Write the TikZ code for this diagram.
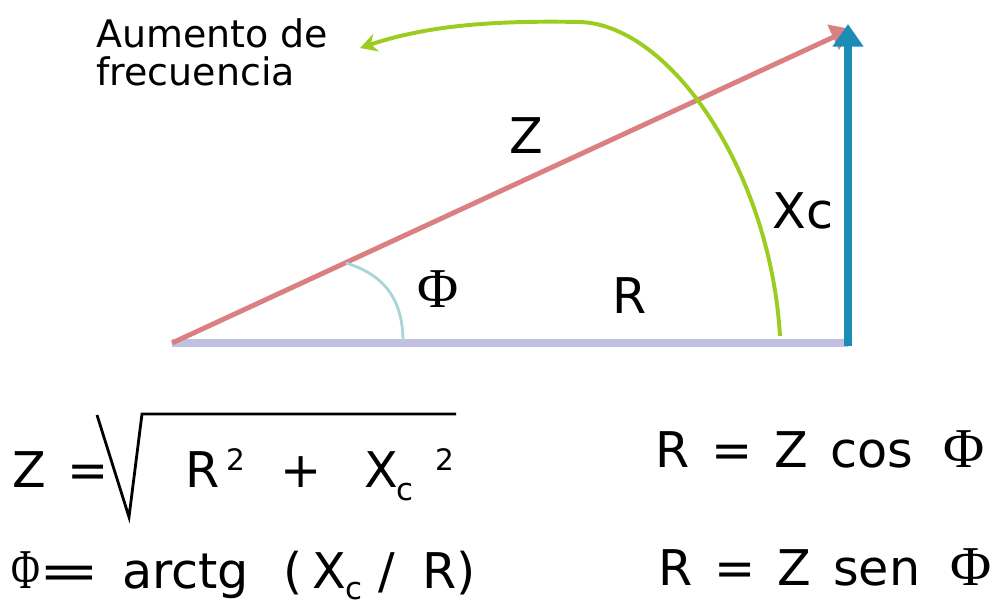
\documentclass[tikz,border=0pt]{standalone}
\usepackage{fontspec}
\setmainfont{DejaVu Sans}
\newfontfamily\widefont[WordSpace=1.4]{DejaVu Sans}
\newfontfamily\phifont{Liberation Serif}
\usepackage{tikz}
\usetikzlibrary{arrows.meta}
\definecolor{zpink}{RGB}{219,128,128}
\definecolor{rlav}{RGB}{194,192,226}
\definecolor{xblue}{RGB}{28,140,182}
\definecolor{fgreen}{RGB}{156,204,32}
\definecolor{angcol}{RGB}{170,212,216}

\begin{document}
\begin{tikzpicture}[x=0.025cm,y=-0.025cm,
          big/.style={inner sep=0pt,anchor=base west,font=\widefont\fontsize{35}{42}\selectfont},
          sml/.style={inner sep=0pt,anchor=base west,font=\fontsize{21}{25}\selectfont},
          sub/.style={inner sep=0pt,anchor=base west,font=\fontsize{22}{26}\selectfont},
          phi/.style={inner sep=0pt,anchor=base west,font=\phifont\fontsize{40}{48}\selectfont}]
          \useasboundingbox (0,0) rectangle (995,600);
          \coordinate (o) at (172,343); \coordinate (r) at (848,343);
          \coordinate (xtop) at (848,24); \coordinate (ztop) at (851,29);
          \coordinate (gs) at (780,336); \coordinate (gm) at (580,22); \coordinate (ge) at (360,48);
          \coordinate (as) at (403,342); \coordinate (ae) at (346,263);
          \draw[rlav,line width=5.5pt](o)--(r);
          \draw[zpink,line width=3.5pt,-{Triangle[width=19pt,length=14pt]}](o)--(ztop);
          \draw[xblue,line width=6pt,-{Triangle[width=21pt,length=16pt]}]([yshift=-2pt]r)--(xtop);
          \draw[angcol,line width=2pt](as) .. controls (403,300) and (385,275) .. (ae);
          \draw[fgreen,line width=2.8pt,-{Stealth[width=13pt,length=12pt]}](gs) .. controls (770,170) and (670,25) .. (gm)
            .. controls (480,20) and (420,28) .. (ge);
          \node[inner sep=0pt,anchor=base west,align=left,font=\fontsize{27}{27}\selectfont](frec) at (96,85){Aumento de\\frecuencia};
          \node[big](zl) at (509,153){Z};
          \node[big](xcl) at (772,228){Xc};
          \node[big](rl) at (612,313){R};
          \node[phi](phil) at (417,307){Φ};
          \node[big](zeq) at (12,487){Z =};
          \draw[line width=2pt](97,415)--(129,517)--(142,414)--(456,414);
          \node[big](r2) at (185,487){R};
          \node[sml](r2e) at (226,470){2};
          \node[big](plus) at (280,487){+};
          \node[big](xc) at (364,487){X};
          \node[sub](xcs) at (396,500){c};
          \node[sml](xc2) at (435,470){2};
          \node[phi](phi2) at (11,588){\scalebox{0.7}[1]{Φ}};
          \node[big](eq2) at (38,588){\scalebox{1.5}[1]{=} arctg};
          \node[big](par) at (283,588){(\hspace{7pt}X};
          \node[sub](xcs2) at (345,599){c};
          \node[big](sl) at (378,588){/};
          \node[big](rp) at (422,588){R)};
          \node[big](rcos) at (655,467){R = Z cos};
          \node[phi,anchor=base east](phic) at (985,467){Φ};
          \node[big](rsen) at (658,585){R = Z sen};
          \node[phi,anchor=base east](phis) at (992,585){Φ};
        \end{tikzpicture}
\end{document}
